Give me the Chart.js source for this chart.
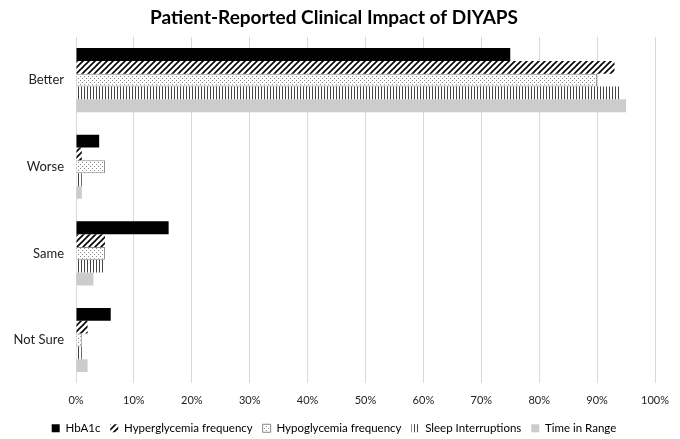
<!DOCTYPE html>
<html><head><meta charset="utf-8">
<script src="https://cdn.jsdelivr.net/npm/chart.js@4"></script>
<style>html,body{margin:0;padding:0;background:#fff}#wrap{width:680px;height:439px}</style>
</head><body><div id="wrap"><canvas id="c" width="680" height="439"></canvas></div>
<script>
const categories = ["Better", "Worse", "Same", "Not Sure"];
const hba1c = [75, 4, 16, 6];
const hyperglycemia = [93, 1, 5, 2];
const hypoglycemia = [90, 5, 5, 1];
const sleepInterruptions = [94, 1, 5, 1];
const timeInRange = [95, 1, 3, 2];
const xTicks = [0,10,20,30,40,50,60,70,80,90,100];

function mkPattern(w, h, draw) {
  const cv = document.createElement('canvas'); cv.width = w; cv.height = h;
  const g = cv.getContext('2d'); g.fillStyle = '#fff'; g.fillRect(0,0,w,h); draw(g);
  return document.getElementById('c').getContext('2d').createPattern(cv, 'repeat');
}
const diag = mkPattern(6, 6, g => {
  g.strokeStyle = '#000'; g.lineWidth = 1.6;
  g.beginPath(); g.moveTo(-1,7); g.lineTo(7,-1); g.moveTo(-4,4); g.lineTo(4,-4); g.moveTo(2,10); g.lineTo(10,2); g.stroke();
});
const dots = mkPattern(4, 4, g => {
  g.fillStyle = '#888'; g.fillRect(0,0,1,1); g.fillRect(2,2,1,1);
});
const vert = mkPattern(3, 2, g => {
  g.fillStyle = '#444'; g.fillRect(0,0,1,2);
});

const font = "Lato, 'Open Sans', sans-serif";
const defaultLabels = Chart.defaults.plugins.legend.labels.generateLabels;
new Chart(document.getElementById('c'), {
  type: 'bar',
  data: {
    labels: categories,
    datasets: [
      {label: 'HbA1c', data: hba1c, backgroundColor: '#000'},
      {label: 'Hyperglycemia frequency', data: hyperglycemia, backgroundColor: diag},
      {label: 'Hypoglycemia frequency', data: hypoglycemia, backgroundColor: dots, borderColor: '#888', borderWidth: 1},
      {label: 'Sleep Interruptions', data: sleepInterruptions, backgroundColor: vert},
      {label: 'Time in Range', data: timeInRange, backgroundColor: '#cccccc'}
    ]
  },
  options: {
    indexAxis: 'y', responsive: false, animation: false,
    datasets: {bar: {barPercentage: 1, categoryPercentage: 0.74}},
    layout: {padding: {left: 8, right: 20, top: 0, bottom: -5}},
    plugins: {
      title: {display: true, text: 'Patient-Reported Clinical Impact of DIYAPS', color: '#000',
        font: {family: font, size: 19, weight: 'bold'}, padding: {top: 6, bottom: 8}},
      legend: {position: 'bottom', labels: {boxWidth: 8, boxHeight: 8, padding: 4, color: '#000',
        font: {family: font, size: 11.5},
        generateLabels: ch => defaultLabels(ch).map((l, i, a) => { if (i < a.length - 1) l.text += '  '; return l; })}},
      tooltip: {enabled: false}
    },
    scales: {
      x: {min: 0, max: 100, afterBuildTicks: ax => { ax.ticks = xTicks.map(v => ({value: v})); },
        ticks: {callback: v => v + '%', color: '#222', font: {family: font, size: 11}, maxRotation: 0, padding: 11},
        grid: {color: '#d9d9d9', drawTicks: false}, border: {display: false}},
      y: {afterFit: ax => { ax.width = 68; },
        ticks: {color: '#222', font: {family: font, size: 13}, padding: 4},
        grid: {display: false}, border: {display: false}}
    }
  }
});
</script></body></html>
